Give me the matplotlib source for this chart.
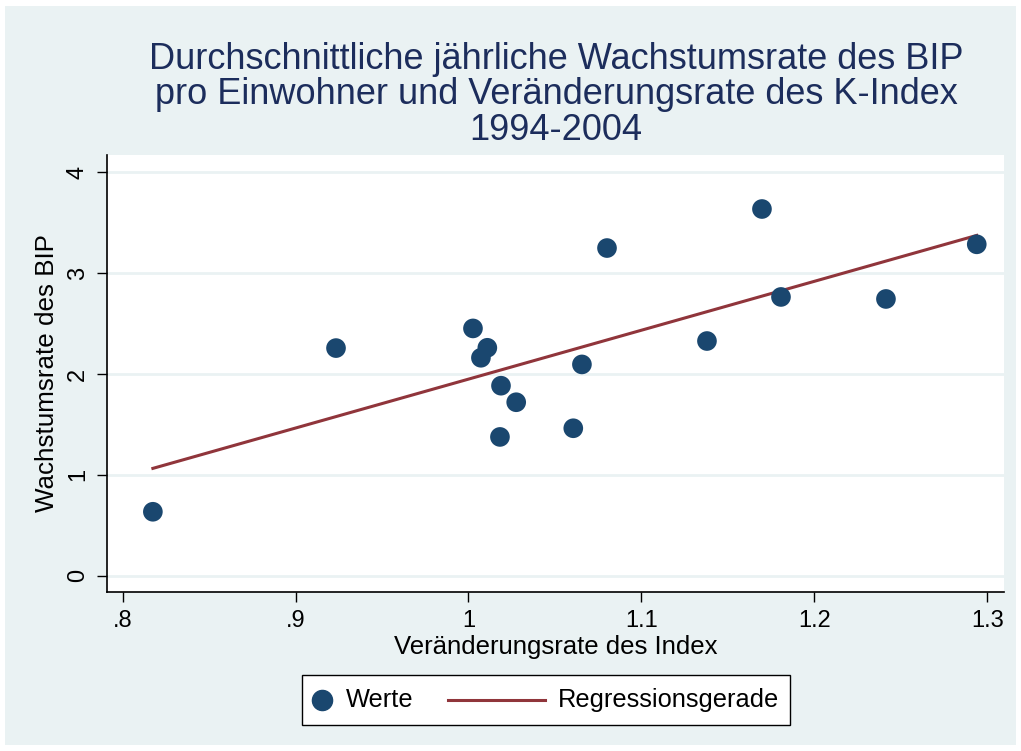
import numpy as np
import matplotlib.pyplot as plt
from matplotlib.patches import Rectangle
from matplotlib.lines import Line2D

plt.rcParams['font.family'] = ['Liberation Sans', 'DejaVu Sans']

# index change rate vs. GDP per capita growth
index_rate = [0.8175, 0.9234, 1.0026, 1.0072, 1.0109, 1.0188, 1.0182, 1.0276,
              1.0606, 1.0656, 1.0801, 1.1379, 1.1697, 1.1807, 1.2414, 1.2939]
gdp_growth = [0.634, 2.257, 2.452, 2.161, 2.260, 1.884, 1.376, 1.720,
              1.462, 2.095, 3.249, 2.327, 3.636, 2.764, 2.744, 3.286]
x_ticks = [0.8, 0.9, 1.0, 1.1, 1.2, 1.3]
x_labels = ['.8', '.9', '1', '1.1', '1.2', '1.3']
y_ticks = [0, 1, 2, 3, 4]

bg = '#EAF2F3'
navy = '#1A476F'
red = '#90353B'

W, H = 1021, 751
fig = plt.figure(figsize=(W / 100, H / 100), dpi=100, facecolor='white')
fig.patches.append(Rectangle((5 / W, 6 / H), 1011 / W, 739 / H, transform=fig.transFigure,
                             facecolor=bg, edgecolor='none', zorder=-10))

ax = fig.add_axes([107 / W, 1 - 592 / H, 897 / W, 437 / H])
ax.set_facecolor('white')

x = np.array(index_rate)
y = np.array(gdp_growth)
b, a = np.polyfit(x, y, 1)
xl = np.array([x.min(), x.max()])

ax.scatter(x, y, s=200, color=navy, edgecolors='none', zorder=3)
ax.plot(xl, a + b * xl, color=red, lw=2.2, zorder=2)

# axis ranges chosen so ticks land where they do in the original
ax.set_xlim(0.8 - 15.6 / 1729, 1.3 + 16.7 / 1729)
ax.set_ylim(-16.3 / 100.85, 4 + 17.3 / 100.85)

ax.set_xticks(x_ticks)
ax.set_xticklabels(x_labels)
ax.set_yticks(y_ticks)
ax.set_yticklabels([str(v) for v in y_ticks], rotation=90, va='center')
ax.tick_params(direction='out', length=7, width=1, labelsize=17, colors='black', pad=6)
ax.grid(axis='y', color=bg, lw=2)
ax.set_axisbelow(True)
for s in ['top', 'right']:
    ax.spines[s].set_visible(False)
for s in ['left', 'bottom']:
    ax.spines[s].set_linewidth(1.2)

ax.set_xlabel('Veränderungsrate des Index', fontsize=18.5, labelpad=2)
ax.set_ylabel('Wachstumsrate des BIP', fontsize=18.7, labelpad=6)

fig.text(556 / W, 1 - 95 / H,
         'Durchschnittliche jährliche Wachstumsrate des BIP\n'
         'pro Einwohner und Veränderungsrate des K-Index\n1994-2004',
         ha='center', va='center', fontsize=26, color='#1C2D5C', linespacing=1.03)

# legend box drawn by hand to get the Stata-style spacing
fig.patches.append(Rectangle((302 / W, 1 - 725 / H), 488 / W, 50 / H, transform=fig.transFigure,
                             facecolor='white', edgecolor='black', lw=1))
ly = 1 - 700 / H
fig.lines.append(Line2D([322 / W], [ly], marker='o', ls='none', color=navy,
                        markersize=14.5, transform=fig.transFigure))
fig.lines.append(Line2D([448 / W, 545 / W], [ly, ly], color=red, lw=2.2,
                        transform=fig.transFigure))
fig.text(346 / W, ly, 'Werte', ha='left', va='center', fontsize=18.3)
fig.text(558 / W, ly, 'Regressionsgerade', ha='left', va='center', fontsize=18.3)

fig.savefig('out.png', dpi=100, facecolor='white')
